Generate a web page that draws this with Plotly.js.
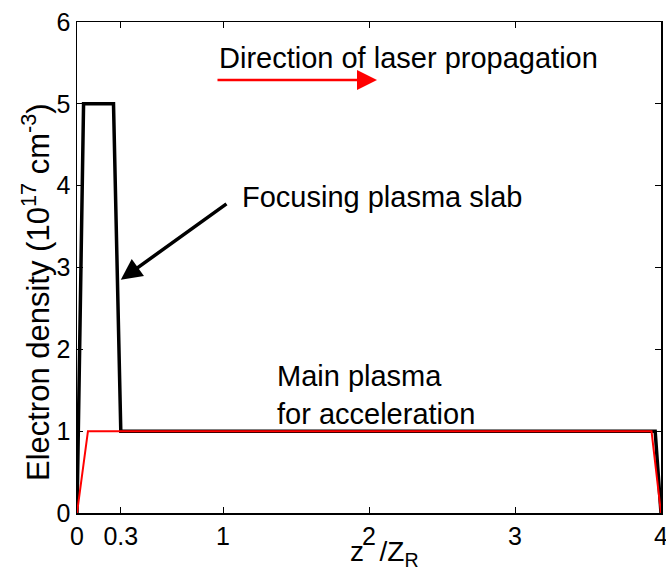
<!DOCTYPE html>
<html>
<head>
<meta charset="utf-8">
<script src="https://cdn.plot.ly/plotly-3.0.1.min.js"></script>
<style>html,body{margin:0;padding:0;background:#fff;}#chart{width:666px;height:579px;}</style>
</head>
<body>
<div id="chart"></div>
<script>
// Focusing plasma slab + main plasma profile (black)
const slabZ = [0, 0.045, 0.25, 0.30, 3.96, 4.0];
const slabN = [0, 5, 5, 1, 1, 0];
// Main plasma profile (red)
const mainZ = [0, 0.075, 3.935, 4.0];
const mainN = [0, 1, 1, 0];

const xTickVals = [0, 0.3, 1, 2, 3, 4];
const xTickText = ['0', '0.3', '1', '2', '3', '4'];
const yTickVals = [0, 1, 2, 3, 4, 5, 6];

const xTitle = 'z\u00a0\u00a0/Z<sub>R</sub>';
const yTitle = 'Electron density (10<sup>17</sup> cm<sup>-3</sup>)';

const FONT = 'Liberation Sans, Arial, Helvetica, sans-serif';

const traces = [
  {x: slabZ, y: slabN, mode: 'lines', line: {color: '#000000', width: 3.5}, hoverinfo: 'skip'},
  {x: mainZ, y: mainN, mode: 'lines', line: {color: '#ff0000', width: 2}, hoverinfo: 'skip'}
];

const layout = {
  width: 666, height: 579,
  margin: {l: 77, r: 5, t: 22, b: 66},
  paper_bgcolor: '#ffffff', plot_bgcolor: '#ffffff',
  showlegend: false,
  font: {family: FONT, size: 25, color: '#000'},
  xaxis: {
    range: [0, 4], tickvals: xTickVals, ticktext: xTickText,
    ticks: 'inside', ticklen: 6, tickwidth: 1, tickcolor: '#000',
    showline: true, linecolor: '#000', linewidth: 1.5, mirror: 'allticks',
    showgrid: false, zeroline: false, ticklabeloverflow: 'allow',
    tickfont: {size: 25, family: FONT}
  },
  yaxis: {
    range: [0, 6], tickvals: yTickVals,
    ticks: 'inside', ticklen: 6, tickwidth: 1, tickcolor: '#000',
    showline: true, linecolor: '#000', linewidth: 1.5, mirror: 'allticks',
    showgrid: false, zeroline: false, ticklabeloverflow: 'allow',
    tickfont: {size: 25, family: FONT}
  },
  annotations: [
    {x: 0.526, y: 0, xref: 'paper', yref: 'paper', xanchor: 'center', yanchor: 'middle', yshift: -40,
     text: xTitle, showarrow: false, font: {size: 28, family: FONT}},
    {x: 0, y: 0.45, xref: 'paper', yref: 'paper', xanchor: 'center', yanchor: 'middle', xshift: -41,
     textangle: -90, text: yTitle, showarrow: false, font: {size: 31, family: FONT}},
    {x: 0.96, y: 5.56, xref: 'x', yref: 'y', xanchor: 'left', yanchor: 'middle',
     text: 'Direction of laser propagation', showarrow: false, font: {size: 29, family: FONT}},
    {x: 2.055, y: 5.29, ax: 0.952, ay: 5.29, xref: 'x', yref: 'y', axref: 'x', ayref: 'y',
     text: '', showarrow: true, arrowhead: 2, arrowsize: 1.6, arrowwidth: 2.5, arrowcolor: '#ff0000'},
    {x: 1.116, y: 3.86, xref: 'x', yref: 'y', xanchor: 'left', yanchor: 'middle',
     text: 'Focusing plasma slab', showarrow: false, font: {size: 29, family: FONT}},
    {x: 0.30, y: 2.85, ax: 1.034, ay: 3.79, xref: 'x', yref: 'y', axref: 'x', ayref: 'y',
     text: '', showarrow: true, arrowhead: 2, arrowsize: 1.2, arrowwidth: 3.5, arrowcolor: '#000000'},
    {x: 1.356, y: 1.445, xref: 'x', yref: 'y', xanchor: 'left', yanchor: 'middle', align: 'left',
     text: 'Main plasma<br>for acceleration', showarrow: false, font: {size: 29, family: FONT}}
  ]
};

Plotly.newPlot('chart', traces, layout, {staticPlot: true, displayModeBar: false});
</script>
</body>
</html>
